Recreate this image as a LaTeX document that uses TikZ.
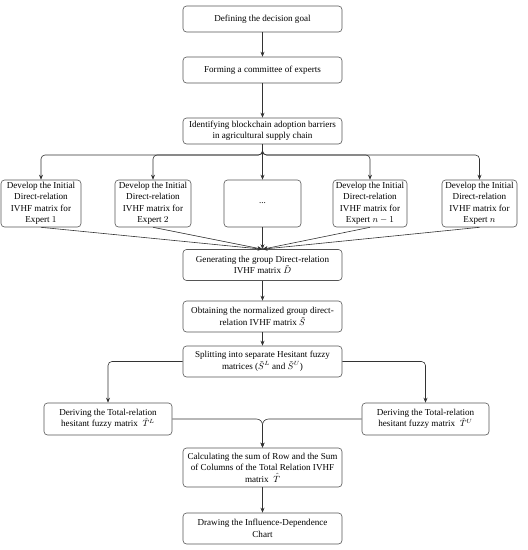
\documentclass[tikz,border=0pt]{standalone}
\usepackage{fontspec}
\setmainfont{Liberation Serif}
\usetikzlibrary{arrows.meta}
\definecolor{linec}{HTML}{333333}
\definecolor{boxc}{HTML}{555555}
\begin{document}
\begin{tikzpicture}[x=1pt,y=-1pt,
  box/.style={draw=boxc, line width=0.6pt, rounded corners=3.5pt, align=center, inner sep=0.5pt,
    font=\fontsize{9.1}{11.5}\selectfont},
  arr/.style={draw=linec, line width=0.6pt, -{Stealth[length=5pt,width=4pt]}},
  ln/.style={draw=linec, line width=0.6pt}]
\useasboundingbox (0,0) rectangle (528,550);
\node[box, minimum width=159, minimum height=26] (goal) at (262.5,19) {Defining the decision goal};
\node[box, minimum width=159, minimum height=26] (comm) at (262.5,70) {Forming a committee of experts};
\node[box, minimum width=159, minimum height=26] (iden) at (262.5,131) {Identifying blockchain adoption barriers\\in agricultural supply chain};
\node[box, minimum width=80, minimum height=47] (e1) at (41,203.5) {Develop the Initial\\Direct-relation\\IVHF matrix for\\Expert $1$};
\node[box, minimum width=76, minimum height=47] (e2) at (153,203.5) {Develop the Initial\\Direct-relation\\IVHF matrix for\\Expert $2$};
\node[box, minimum width=77, minimum height=47] (e3) at (262.5,203.5) {...};
\node[box, minimum width=74, minimum height=47] (e4) at (370,203.5) {Develop the Initial\\Direct-relation\\IVHF matrix for\\Expert $n-1$};
\node[box, minimum width=75, minimum height=47] (e5) at (479.5,203.5) {Develop the Initial\\Direct-relation\\IVHF matrix for\\Expert $n$};
\node[box, minimum width=159, minimum height=31] (gen) at (262.5,265) {Generating the group Direct-relation\\IVHF matrix $\tilde{D}$};
\node[box, minimum width=159, minimum height=31] (norm) at (262.5,316.5) {Obtaining the normalized group direct-\\relation IVHF matrix $\tilde{S}$};
\node[box, minimum width=159, minimum height=31] (split) at (262.5,361.5) {Splitting into separate Hesitant fuzzy\\matrices ($\tilde{S}^L$ and $\tilde{S}^U$)};
\node[box, minimum width=128, minimum height=32] (dl) at (108,419) {Deriving the Total-relation\\hesitant fuzzy matrix~ $\hat{T}^L$};
\node[box, minimum width=127, minimum height=32] (dr) at (425.5,419) {Deriving the Total-relation\\hesitant fuzzy matrix~ $\hat{T}^U$};
\node[box, minimum width=159, minimum height=39] (calc) at (262.5,467.5) {Calculating the sum of Row and the Sum\\of Columns of the Total Relation IVHF\\matrix~ $\hat{T}$};
\node[box, minimum width=159, minimum height=31] (chart) at (262.5,528.5) {Drawing the Influence-Dependence\\Chart};
\draw[arr] (goal) -- (comm);
\draw[arr] (comm) -- (iden);
\coordinate (br) at (262.5,155);
\foreach \e in {e1,e2,e3,e4,e5}{
  \draw[arr, rounded corners=4pt] (iden.south) -- (br) -| (\e.north);
}
\foreach \e in {e1,e2,e3,e4,e5}{
  \draw[arr] (\e.south) -- (gen.north);
}
\draw[arr] (gen) -- (norm);
\draw[arr] (norm) -- (split);
\draw[arr, rounded corners=4pt] (split.west) -| (dl.north);
\draw[arr, rounded corners=4pt] (split.east) -| (dr.north);
\draw[arr, rounded corners=6pt] (dl.east) -| (calc.north);
\draw[arr, rounded corners=6pt] (dr.west) -| (calc.north);
\draw[arr] (calc) -- (chart);
\end{tikzpicture}
\end{document}
